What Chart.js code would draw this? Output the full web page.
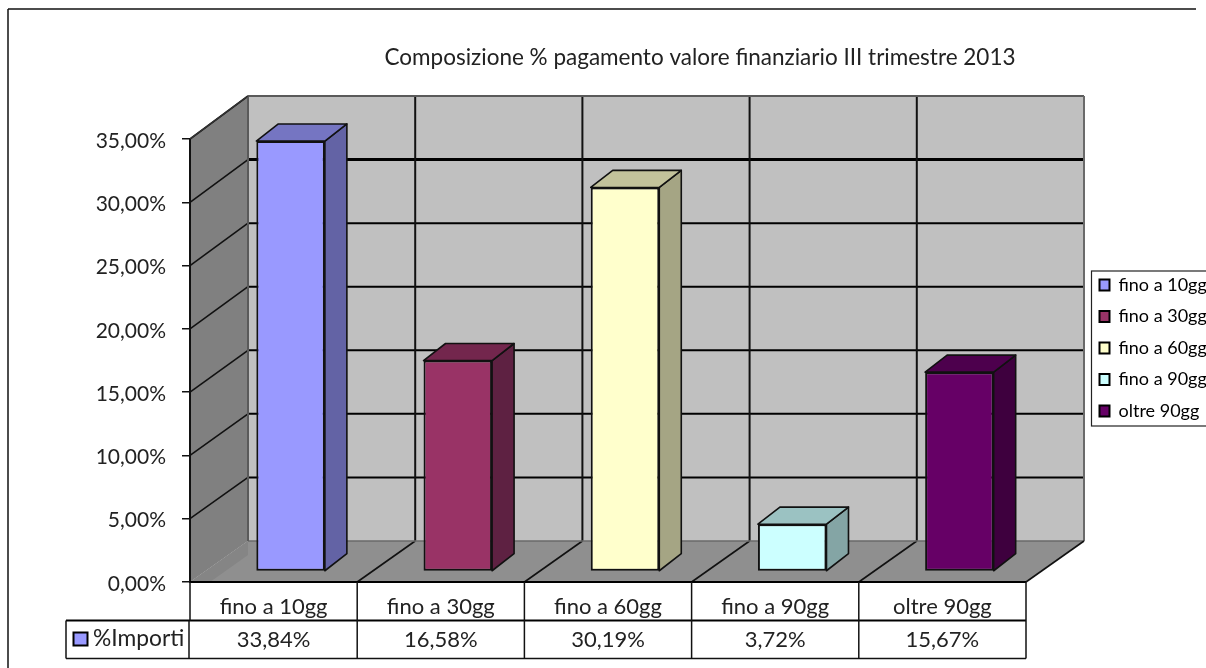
<!DOCTYPE html>
<html><head><meta charset="utf-8">
<style>html,body{margin:0;padding:0;background:#fff}canvas{display:block}#w{width:1206px;height:668px;position:relative}</style>
<script src="https://cdn.jsdelivr.net/npm/chart.js@4"></script>
</head><body><div id="w"><canvas id="c" width="1206" height="668"></canvas></div>
<script>
const categories = ["fino a 10gg","fino a 30gg","fino a 60gg","fino a 90gg","oltre 90gg"];
const values = [33.84,16.58,30.19,3.72,15.67];
const seriesName = "%Importi";
const yTicksMax = 35;
const yTicksStep = 5;
const titleText = "Composizione % pagamento valore finanziario III trimestre 2013";
const frontColors = ["#9999FF","#993366","#FFFFCC","#CCFFFF","#660066"];
const topColors = ["#7575C2","#73264D","#C2C29B","#9BC2C2","#4D004D"];
const sideColors = ["#6363A5","#5E2142","#A5A584","#84A5A5","#3E003E"];
const FONT = "Lato, Carlito, sans-serif";
const fmt = v => v.toFixed(2).replace(".", ",") + "%";

// 3D projection offsets
const wallDX = 58, wallY0 = 541, wallScale = 1.0045;
const barDX = 17, barY0 = 571.5, barScale = 1.005, depthX = 22, depthY = 17;

function line(ctx, x1, y1, x2, y2, color, w) {
  ctx.strokeStyle = color; ctx.lineWidth = w;
  ctx.beginPath(); ctx.moveTo(x1, y1); ctx.lineTo(x2, y2); ctx.stroke();
}
function poly(ctx, pts, fill, stroke, w) {
  ctx.beginPath(); pts.forEach((p, i) => i ? ctx.lineTo(p[0], p[1]) : ctx.moveTo(p[0], p[1]));
  ctx.closePath();
  if (fill) { ctx.fillStyle = fill; ctx.fill(); }
  if (stroke) { ctx.strokeStyle = stroke; ctx.lineWidth = w; ctx.lineJoin = "round"; ctx.stroke(); }
}

const scene = {
  id: "scene",
  afterLayout(chart) {
    const t = chart.titleBlock; t.left = 194; t.right = 1206;
    const l = chart.legend;
    l.left = 1086; l.right = 1206; l.top = 262.5; l.bottom = 668; l.width = 120; l.height = 405.5;
  },
  beforeDraw(chart) {
    const ctx = chart.ctx, { x, y } = chart.scales, a = chart.chartArea;
    const L = a.left, R = a.right, F = a.bottom, T = a.top;
    const back = p => wallY0 + (p - F) * wallScale;
    const bT = back(T), bF = back(F);
    ctx.save();
    ctx.fillStyle = "#fff"; ctx.fillRect(0, 0, 1206, 668);
    // frame
    line(ctx, 8, 9, 1196, 9, "#111", 1.5);
    line(ctx, 8, 9, 8, 668, "#111", 1.5);
    // walls
    poly(ctx, [[L+wallDX, bT],[R+wallDX, bT],[R+wallDX, bF],[L+wallDX, bF]], "#C0C0C0");
    poly(ctx, [[L, T],[L+wallDX, bT],[L+wallDX, bF],[L, F]], "#808080");
    poly(ctx, [[L, F],[L+wallDX, bF],[R+wallDX, bF],[R, F]], "#8F8F8F");
    poly(ctx, [[L, F],[L+wallDX, bF],[L+wallDX, bF+14],[L+20, F]], "#858585");
    // horizontal grid
    const ticks = y.ticks.map(t => t.value);
    ticks.forEach(v => {
      const p = y.getPixelForValue(v);
      if (v > 0) line(ctx, L, p, L+wallDX, back(p), "#111", 1.6);
      if (v > 0 && v < yTicksMax) line(ctx, L+wallDX, back(p), R+wallDX, back(p), "#000", v === 30 ? 3 : 2);
    });
    // vertical grid
    const step = (R - L) / categories.length;
    for (let i = 1; i < categories.length; i++) {
      const px = L + step * i;
      line(ctx, px + wallDX, bT, px + wallDX, bF, "#111", 2);
      line(ctx, px, F, px + wallDX, bF, "#111", 1.6);
    }
    line(ctx, L+wallDX, bT, R+wallDX, bT, "#5a5a5a", 2);
    line(ctx, L+wallDX, bF, R+wallDX, bF, "#6a6a6a", 1.5);
    line(ctx, L+wallDX, bT, L+wallDX, bF, "#5a5a5a", 2);
    line(ctx, R+wallDX, bT, R+wallDX, bF, "#6a6a6a", 2);
    line(ctx, R, F, R+wallDX, bF, "#111", 1.6);
    line(ctx, L, T, L+wallDX, bT, "#333", 1.5);
    line(ctx, L, T, L, F, "#111", 2);
    // table
    const r1 = F, r2 = 620.5, r3 = 658.5, keyL = 66;
    line(ctx, L-1, F, R, F, "#000", 2);
    line(ctx, keyL, r2, R, r2, "#000", 2);
    line(ctx, keyL, r3, R, r3, "#111", 1.5);
    line(ctx, keyL, r2, keyL, r3, "#111", 1.5);
    line(ctx, L-1, r2, L-1, r3, "#111", 1.5);
    line(ctx, L, r1, L, r2, "#111", 1.5);
    for (let i = 1; i <= categories.length; i++) {
      const px = L + step * i;
      line(ctx, px, r1, px, r3, "#111", 1.5);
    }
    // series key
    ctx.fillStyle = frontColors[0]; ctx.fillRect(73.5, 632.5, 14, 13);
    ctx.strokeStyle = "#000"; ctx.lineWidth = 2; ctx.strokeRect(73.5, 632.5, 14, 13);
    // legend frame
    ctx.strokeStyle = "#222"; ctx.lineWidth = 1.2; ctx.strokeRect(1091.5, 271, 120, 155);
    ctx.restore();
  },
  afterDraw(chart) {
    const ctx = chart.ctx, x = chart.scales.x;
    ctx.save();
    ctx.fillStyle = "#222"; ctx.font = "22px " + FONT;
    ctx.textBaseline = "middle"; ctx.textAlign = "center";
    values.forEach((v, i) => ctx.fillText(fmt(v), x.getPixelForTick(i), 640));
    ctx.textAlign = "left";
    ctx.font = "22.8px " + FONT;
    ctx.fillText(seriesName, 93, 639);
    ctx.restore();
  },
  beforeDatasetDraw(chart, args) {
    const ctx = chart.ctx, F = chart.chartArea.bottom;
    ctx.save();
    ctx.transform(1, 0, 0, barScale, barDX, barY0 - F * barScale);
    chart.getDatasetMeta(args.index).data.forEach((b, i) => {
      const l = b.x - b.width / 2, r = b.x + b.width / 2, t = b.y, f = b.base;
      poly(ctx, [[r, t],[r+depthX, t-depthY],[r+depthX, f-depthY],[r, f]], sideColors[i], "#111", 1.6);
      poly(ctx, [[l, t],[l+depthX, t-depthY],[r+depthX, t-depthY],[r, t]], topColors[i], "#111", 1.6);
    });
  },
  afterDatasetDraw(chart) { chart.ctx.restore(); }
};

new Chart(document.getElementById("c"), {
  type: "bar",
  plugins: [scene],
  data: {
    labels: categories,
    datasets: [{
      label: seriesName, data: values,
      backgroundColor: frontColors, borderColor: "#111", borderWidth: 2, borderSkipped: false,
      barPercentage: 0.41, categoryPercentage: 1
    }]
  },
  options: {
    responsive: false, animation: false, devicePixelRatio: 1,
    layout: { padding: { left: 0, right: 180, top: 0, bottom: 0 } },
    plugins: {
      tooltip: { enabled: false },
      title: {
        display: true, text: titleText, color: "#222",
        font: { family: FONT, size: 22.5, weight: "normal" },
        padding: { top: 44.5, bottom: 67.5 }
      },
      legend: {
        display: true, position: "chartArea", align: "start",
        labels: {
          color: "#222", font: { family: FONT, size: 18 },
          boxWidth: 10, boxHeight: 11, padding: 13.5,
          generateLabels: () => categories.map((c, i) => ({
            text: c, fillStyle: frontColors[i], strokeStyle: "#000", lineWidth: 2, hidden: false, index: i
          }))
        }
      }
    },
    scales: {
      x: {
        grid: { display: false }, border: { display: false },
        ticks: { color: "#222", font: { family: FONT, size: 22 }, padding: 4, maxRotation: 0, autoSkip: false },
        afterFit: s => { s.height = 86; }
      },
      y: {
        min: 0, max: yTicksMax,
        grid: { drawOnChartArea: false, drawTicks: true, tickLength: 8, color: "#111", lineWidth: 1.5 },
        border: { display: false },
        ticks: { stepSize: yTicksStep, color: "#222", font: { family: FONT, size: 21 }, padding: 16, labelOffset: 2,
                 callback: v => fmt(v) },
        afterFit: s => { s.width = 190; }
      }
    }
  }
});
</script></body></html>
